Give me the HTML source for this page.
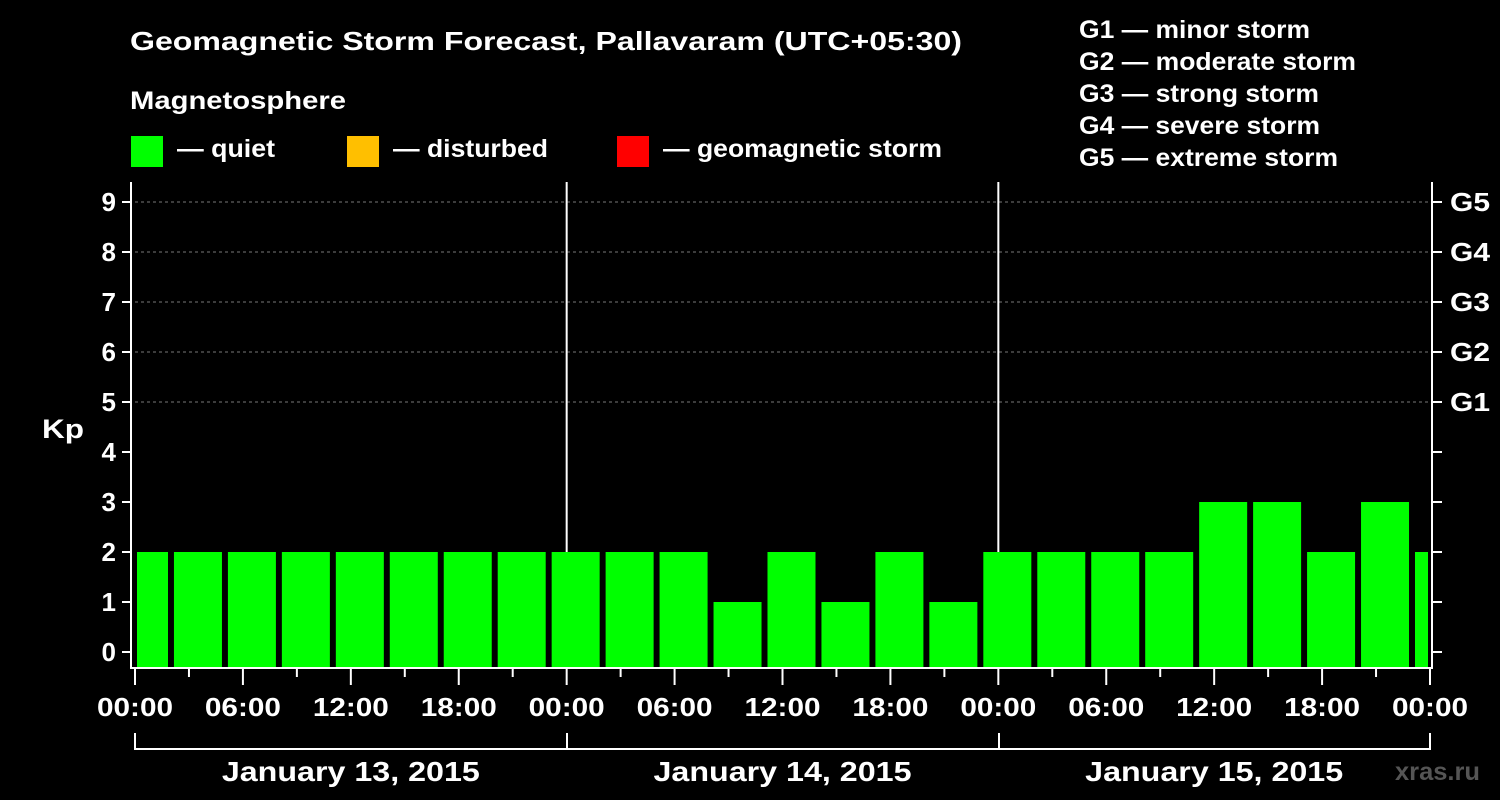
<!DOCTYPE html>
<html><head><meta charset="utf-8"><style>
html,body{margin:0;padding:0;background:#000;width:1500px;height:800px;overflow:hidden}
svg{display:block;font-family:"Liberation Sans",Arial,sans-serif;font-weight:bold}
</style></head><body>
<svg id="chart" width="1500" height="800">
<text x="130" y="50" fill="#fff" font-size="26" textLength="832" lengthAdjust="spacingAndGlyphs">Geomagnetic Storm Forecast, Pallavaram (UTC+05:30)</text>
<text x="130" y="109" fill="#fff" font-size="25" textLength="216" lengthAdjust="spacingAndGlyphs">Magnetosphere</text>
<g><rect x="131" y="136" width="32" height="31" fill="#00ff00"/><text x="177" y="157" fill="#fff" font-size="25" textLength="98" lengthAdjust="spacingAndGlyphs">— quiet</text></g>
<g><rect x="347" y="136" width="32" height="31" fill="#ffbf00"/><text x="393" y="157" fill="#fff" font-size="25" textLength="155" lengthAdjust="spacingAndGlyphs">— disturbed</text></g>
<g><rect x="617" y="136" width="32" height="31" fill="#ff0000"/><text x="663" y="157" fill="#fff" font-size="25" textLength="279" lengthAdjust="spacingAndGlyphs">— geomagnetic storm</text></g>
<g fill="#fff" font-size="25">
<text x="1079" y="38" textLength="231" lengthAdjust="spacingAndGlyphs">G1 — minor storm</text>
<text x="1079" y="70" textLength="277" lengthAdjust="spacingAndGlyphs">G2 — moderate storm</text>
<text x="1079" y="102" textLength="240" lengthAdjust="spacingAndGlyphs">G3 — strong storm</text>
<text x="1079" y="134" textLength="241" lengthAdjust="spacingAndGlyphs">G4 — severe storm</text>
<text x="1079" y="166" textLength="259" lengthAdjust="spacingAndGlyphs">G5 — extreme storm</text>
</g>
<text x="42" y="438" fill="#fff" font-size="27" textLength="42" lengthAdjust="spacingAndGlyphs">Kp</text>
<text x="1395" y="780" fill="#555" font-size="25" textLength="85" lengthAdjust="spacingAndGlyphs">xras.ru</text>
<g id="grid"></g><g id="bars"></g><g id="axes"></g>
</svg>
<script>
const kpValues=[2,2,2,2,2,2,2,2,2,2,2,1,2,1,2,1,2,2,2,2,3,3,2,3,2];
const barCenterHours=[0.5,3.5,6.5,9.5,12.5,15.5,18.5,21.5,24.5,27.5,30.5,33.5,36.5,39.5,42.5,45.5,48.5,51.5,54.5,57.5,60.5,63.5,66.5,69.5,72.5];
const hourLabels=["00:00","06:00","12:00","18:00","00:00","06:00","12:00","18:00","00:00","06:00","12:00","18:00","00:00"];
const dayLabels=["January 13, 2015","January 14, 2015","January 15, 2015"];
const kpTicks=[0,1,2,3,4,5,6,7,8,9];
const gLabels=["G1","G2","G3","G4","G5"];
const NS="http://www.w3.org/2000/svg";
const X0=135,X1=1430,HW=(X1-X0)/72;
const x=h=>X0+h*HW;
const y=k=>652-k*50;
function mk(p,t,a){const e=document.createElementNS(NS,t);for(const k in a)e.setAttribute(k,a[k]);p.appendChild(e);return e;}
const grid=document.getElementById('grid'),bars=document.getElementById('bars'),axes=document.getElementById('axes');
[5,6,7,8,9].forEach(k=>{const l=mk(grid,'line',{x1:X0,x2:X1,y1:y(k),y2:y(k),stroke:'#777','stroke-dasharray':'3,3','stroke-width':1});

});
[24,48].forEach(h=>{const l=mk(grid,'line',{x1:x(h),x2:x(h),y1:182,y2:668,stroke:'#fff','stroke-width':2});

});
kpValues.forEach((v,i)=>{const c=barCenterHours[i];let a=x(c)-24,b=x(c)+24;a=Math.max(a,137);b=Math.min(b,1428);
if(b<=a)return;
const r=mk(bars,'rect',{x:a,y:y(v),width:b-a,height:667-y(v),fill:'#00ff00'});

});
const frame=mk(axes,'path',{d:'M131,182 V668 H1432 V182',fill:'none',stroke:'#fff','stroke-width':2});


kpTicks.forEach(k=>{mk(axes,'line',{x1:122,x2:131,y1:y(k),y2:y(k),stroke:'#fff','stroke-width':2});
mk(axes,'line',{x1:1432,x2:1442,y1:y(k),y2:y(k),stroke:'#fff','stroke-width':2});
const t=mk(axes,'text',{x:116,y:y(k)+9,fill:'#fff','font-size':26,'text-anchor':'end'});t.textContent=k;

});
gLabels.forEach((g,i)=>{const t=mk(axes,'text',{x:1450,y:y(5+i)+9,fill:'#fff','font-size':26,textLength:40,lengthAdjust:'spacingAndGlyphs'});t.textContent=g;

});
for(let h=0;h<=72;h+=3){const major=h%6===0;mk(axes,'line',{x1:x(h),x2:x(h),y1:669,y2:major?685:677,stroke:'#fff','stroke-width':2});}
hourLabels.forEach((s,i)=>{const t=mk(axes,'text',{x:x(i*6)-38,y:716,fill:'#fff','font-size':26,textLength:76,lengthAdjust:'spacingAndGlyphs'});t.textContent=s;

});
mk(axes,'path',{d:'M135,733 V749 H1430 V733 M567,733 V749 M999,733 V749',fill:'none',stroke:'#fff','stroke-width':2});
dayLabels.forEach((s,i)=>{const t=mk(axes,'text',{x:x(i*24+12)-129,y:781,fill:'#fff','font-size':28,textLength:258,lengthAdjust:'spacingAndGlyphs'});t.textContent=s;

});
</script>
</body></html>
